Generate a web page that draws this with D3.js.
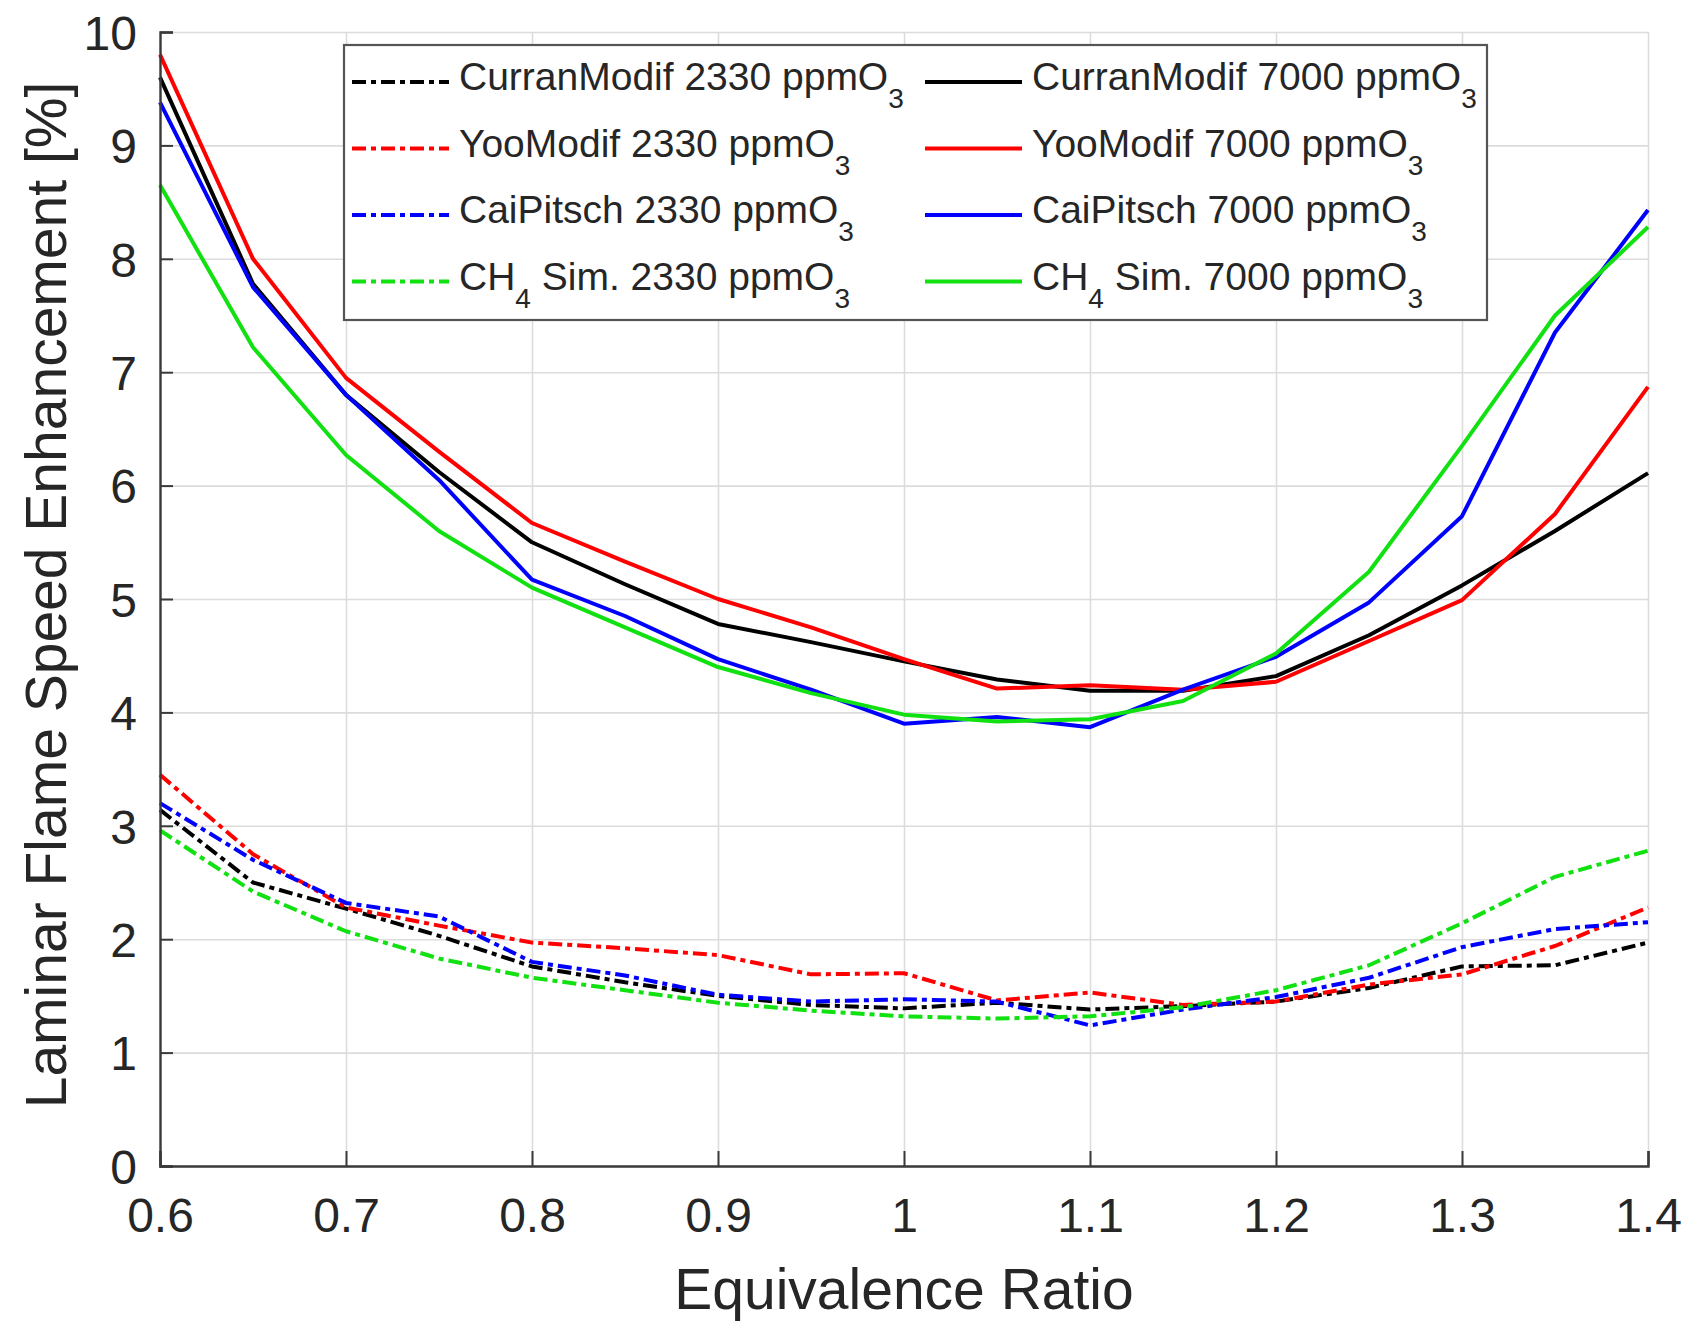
<!DOCTYPE html>
<html>
<head>
<meta charset="utf-8">
<script src="https://cdn.jsdelivr.net/npm/d3@7"></script>
<style>
    body { margin: 0; background: #fff; }
    svg text { font-family: 'Liberation Sans', Arial, Helvetica, sans-serif; fill: #262626; }
</style>
</head>
<body>
<div id="chart"></div>
<script>
// x: equivalence ratio
const phi = [0.6, 0.65, 0.7, 0.75, 0.8, 0.85, 0.9, 0.95, 1.0, 1.05, 1.1, 1.15, 1.2, 1.25, 1.3, 1.35, 1.4];

// 2330 ppm O3 (dash-dot)
const curran2330 = [3.14, 2.5, 2.27, 2.03, 1.76, 1.62, 1.5, 1.42, 1.39, 1.44, 1.38, 1.41, 1.45, 1.57, 1.76, 1.77, 1.97];
const yoo2330 = [3.45, 2.75, 2.28, 2.12, 1.97, 1.92, 1.86, 1.69, 1.7, 1.46, 1.53, 1.42, 1.45, 1.6, 1.69, 1.94, 2.28];
const cai2330 = [3.2, 2.7, 2.32, 2.2, 1.8, 1.68, 1.51, 1.45, 1.47, 1.45, 1.24, 1.38, 1.49, 1.66, 1.93, 2.09, 2.15];
const ch4Sim2330 = [2.96, 2.42, 2.07, 1.83, 1.66, 1.55, 1.44, 1.37, 1.32, 1.3, 1.32, 1.4, 1.55, 1.77, 2.14, 2.55, 2.78];

// 7000 ppm O3 (solid)
const curran7000 = [9.6, 7.78, 6.8, 6.12, 5.5, 5.13, 4.78, 4.62, 4.45, 4.29, 4.19, 4.19, 4.32, 4.68, 5.12, 5.6, 6.11];
const yoo7000 = [9.8, 8.0, 6.95, 6.3, 5.67, 5.33, 5.0, 4.75, 4.47, 4.21, 4.24, 4.2, 4.27, 4.63, 4.99, 5.75, 6.87];
const cai7000 = [9.38, 7.75, 6.8, 6.05, 5.17, 4.85, 4.47, 4.2, 3.9, 3.96, 3.87, 4.2, 4.49, 4.97, 5.73, 7.35, 8.43];
const ch4Sim7000 = [8.65, 7.22, 6.27, 5.6, 5.1, 4.75, 4.4, 4.17, 3.98, 3.92, 3.94, 4.1, 4.52, 5.24, 6.35, 7.5, 8.28];

// names and labels ("_n" = subscript)
const mechanisms = ['CurranModif', 'YooModif', 'CaiPitsch', 'CH_4 Sim.'];
const ozoneLevels = ['2330', '7000'];
const xTicks = [0.6, 0.7, 0.8, 0.9, 1.0, 1.1, 1.2, 1.3, 1.4];
const yTicks = [0, 1, 2, 3, 4, 5, 6, 7, 8, 9, 10];
const xTitle = 'Equivalence Ratio';
const yTitle = 'Laminar Flame Speed Enhancement [%]';

const seriesValues = [
    [curran2330, yoo2330, cai2330, ch4Sim2330],
    [curran7000, yoo7000, cai7000, ch4Sim7000]
];

class FlameChart {
    constructor(el) {
        this.$el = el;
        this.W = 1690;
        this.H = 1321;
        this.box = { left: 160, right: 1648, top: 32, bottom: 1166 };
        this.colors = ['#000000', '#ff0000', '#0000ff', '#11e011'];
        this.dash = ['14,5,5,5', null]; // 2330 dash-dot, 7000 solid
        this.init();
    }
    init() {
        this.renderSvg();
        this.renderGrid();
        this.renderLines();
        this.renderAxes();
        this.renderLegend();
    }
    renderSvg() {
        this.svg = d3.select(this.$el).append('svg')
            .attr('width', this.W)
            .attr('height', this.H);
        this.x = d3.scaleLinear().domain([0.6, 1.4]).range([this.box.left, this.box.right]);
        this.y = d3.scaleLinear().domain([0, 10]).range([this.box.bottom, this.box.top]);
    }
    renderGrid() {
        const b = this.box;
        const g = this.svg.append('g').attr('class', 'grid');
        g.append('g')
            .attr('transform', `translate(0,${b.bottom})`)
            .call(d3.axisBottom(this.x).tickValues(xTicks).tickSize(-(b.bottom - b.top)).tickFormat(''));
        g.append('g')
            .attr('transform', `translate(${b.left},0)`)
            .call(d3.axisLeft(this.y).tickValues(yTicks).tickSize(-(b.right - b.left)).tickFormat(''));
        g.selectAll('.domain').remove();
        g.selectAll('line').attr('stroke', '#dcdcdc').attr('stroke-width', 1.6);
    }
    renderLines() {
        const line = d3.line()
            .x((d, i) => this.x(phi[i]))
            .y(d => this.y(d));
        const g = this.svg.append('g').attr('class', 'lines');
        seriesValues.forEach((group, k) => {
            group.forEach((vals, m) => {
                g.append('path')
                    .attr('d', line(vals))
                    .attr('fill', 'none')
                    .attr('stroke', this.colors[m])
                    .attr('stroke-width', 4)
                    .attr('stroke-linejoin', 'round')
                    .attr('stroke-dasharray', this.dash[k]);
            });
        });
    }
    renderAxes() {
        const b = this.box;
        const xAxis = this.svg.append('g')
            .attr('transform', `translate(0,${b.bottom})`)
            .call(d3.axisBottom(this.x).tickValues(xTicks).tickSize(-15).tickPadding(32)
                .tickFormat(d => d3.format('')(+d.toFixed(1))));
        const yAxis = this.svg.append('g')
            .attr('transform', `translate(${b.left},0)`)
            .call(d3.axisLeft(this.y).tickValues(yTicks).tickSize(-13).tickPadding(23));
        [xAxis, yAxis].forEach(a => {
            a.select('.domain').attr('stroke', '#3a3a3a').attr('stroke-width', 2.4);
            a.selectAll('.tick line').attr('stroke', '#3a3a3a').attr('stroke-width', 2);
            a.selectAll('.tick text').attr('font-size', 48).attr('fill', '#262626')
                .style('font-family', "'Liberation Sans', Arial, sans-serif");
        });
        yAxis.selectAll('.tick text').attr('dy', '0.36em');
        xAxis.selectAll('.tick text').attr('dy', '0.71em');

        this.svg.append('text')
            .attr('x', (b.left + b.right) / 2)
            .attr('y', 1309)
            .attr('text-anchor', 'middle')
            .attr('font-size', 57)
            .text(xTitle);
        this.svg.append('text')
            .attr('transform', `translate(66,${(b.top + b.bottom) / 2 - 4}) rotate(-90)`)
            .attr('text-anchor', 'middle')
            .attr('font-size', 57)
            .text(yTitle);
    }
    // text with "_n" subscripts
    subText(sel, str, size, subSize) {
        const parts = str.split(/_(\d)/);
        parts.forEach((p, i) => {
            if (p === '') return;
            const isSub = i % 2 === 1;
            sel.append('tspan')
                .attr('font-size', isSub ? subSize : size)
                .attr('dy', isSub ? 18 : (i > 0 ? -18 : 0))
                .text(p);
        });
    }
    renderLegend() {
        const lg = this.svg.append('g').attr('class', 'legend');
        lg.append('rect')
            .attr('x', 344).attr('y', 45)
            .attr('width', 1143).attr('height', 275)
            .attr('fill', '#fff')
            .attr('stroke', '#555')
            .attr('stroke-width', 2.2);
        const colX = [352, 925];
        ozoneLevels.forEach((lvl, k) => {
            mechanisms.forEach((name, m) => {
                const base = 90 + m * 66.5;
                lg.append('line')
                    .attr('x1', colX[k]).attr('x2', colX[k] + 97)
                    .attr('y1', base - 8).attr('y2', base - 8)
                    .attr('stroke', this.colors[m])
                    .attr('stroke-width', 4)
                    .attr('stroke-dasharray', this.dash[k]);
                const t = lg.append('text')
                    .attr('x', colX[k] + 107)
                    .attr('y', base)
                    .attr('font-size', 39);
                this.subText(t, `${name} ${lvl} ppmO_3`, 39, 28);
            });
        });
    }
}

new FlameChart(document.getElementById('chart'));
</script>
</body>
</html>
